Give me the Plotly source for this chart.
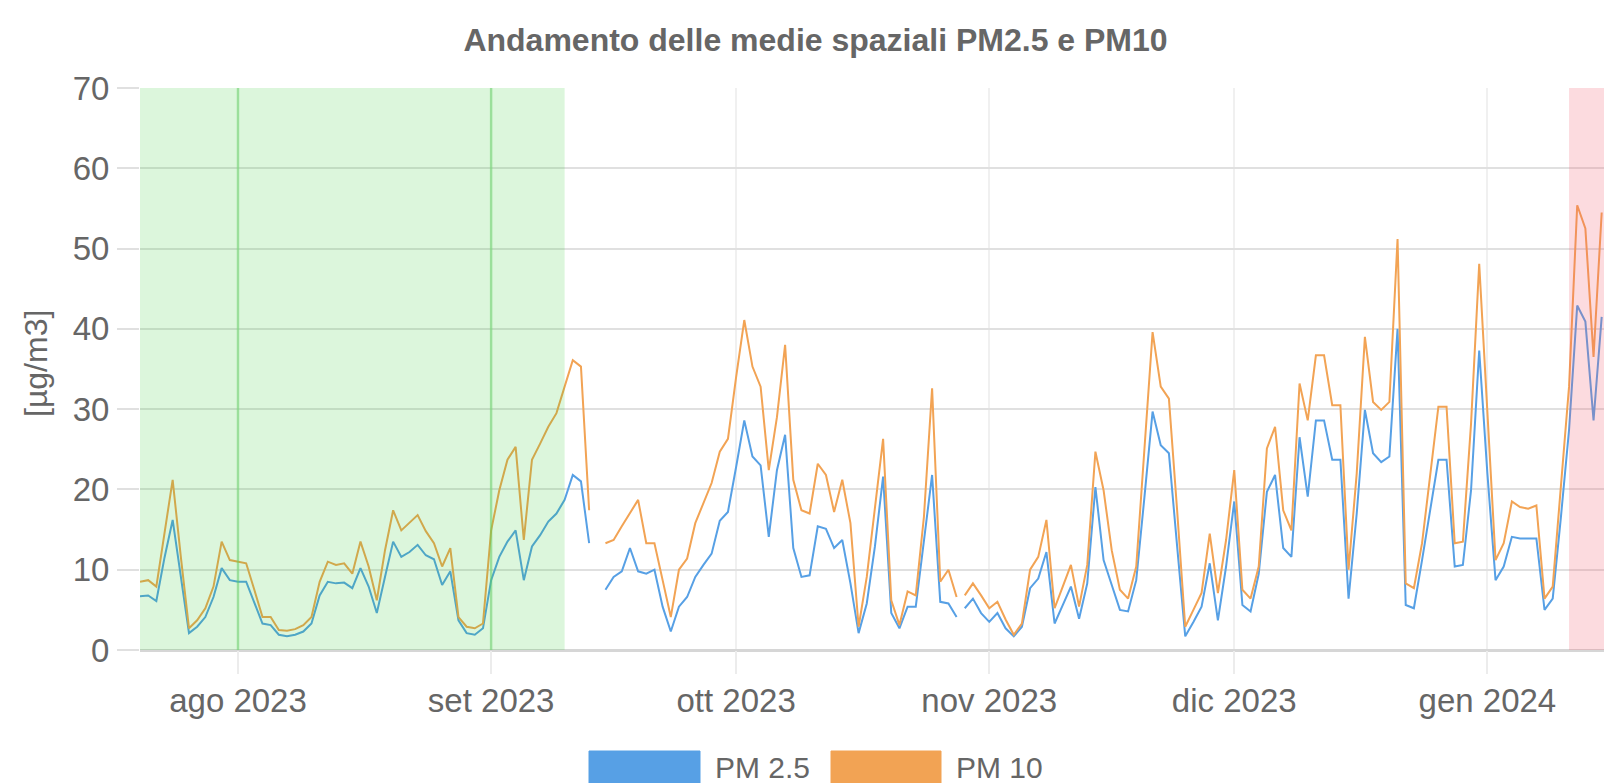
import pandas as pd
import plotly.graph_objects as go

# ---------------- data ----------------
START_DATE = "2023-07-20"
END_DATE = "2024-01-15"
GAP_TIME = "2023-10-28 12:00"   # break in the line between 28 and 29 Oct

pm25 = [6.7, 6.8, 6.1, 11.5, 16.2, 9.1, 2.1, 2.9, 4.1, 6.6,
        10.2, 8.7, 8.5, 8.5, 5.8, 3.3, 3.1, 1.9, 1.7, 1.9,
        2.3, 3.3, 6.8, 8.5, 8.3, 8.4, 7.7, 10.2, 7.9, 4.6,
        9.1, 13.5, 11.6, 12.2, 13.1, 11.8, 11.3, 8.1, 9.8, 3.7,
        2.1, 1.9, 2.7, 8.7, 11.6, 13.5, 14.9, 8.7, 12.9, 14.3,
        16.0, 17.0, 18.7, 21.8, 21.0, 13.3, None, 7.5, 9.1, 9.8,
        12.7, 9.8, 9.5, 10.0, 5.4, 2.3, 5.4, 6.6, 9.1, 10.6,
        12.0, 16.1, 17.2, 22.8, 28.6, 24.1, 23.0, 14.1, 22.4, 26.8,
        12.7, 9.1, 9.3, 15.4, 15.1, 12.7, 13.7, 8.3, 2.1, 5.8,
        12.9, 21.6, 4.6, 2.7, 5.4, 5.4, 13.7, 21.8, 6.0, 5.8,
        4.1, 5.2, 6.4, 4.6, 3.5, 4.6, 2.7, 1.7, 2.9, 7.7,
        8.9, 12.2, 3.3, 5.6, 7.9, 3.9, 8.3, 20.3, 11.2, 8.1,
        5.0, 4.8, 8.7, 19.0, 29.7, 25.5, 24.5, 13.0, 1.7, 3.5,
        5.4, 10.8, 3.7, 10.4, 18.5, 5.6, 4.8, 9.5, 19.7, 21.8,
        12.7, 11.6, 26.5, 19.1, 28.6, 28.6, 23.7, 23.7, 6.4, 17.0,
        29.9, 24.5, 23.4, 24.1, 40.0, 5.6, 5.2, 11.2, 17.4, 23.7,
        23.7, 10.4, 10.6, 19.9, 37.3, 22.0, 8.7, 10.4, 14.1, 13.9,
        13.9, 13.9, 5.0, 6.4, 16.5, 27.4, 42.9, 40.9, 28.6, 41.5]

pm10 = [8.5, 8.7, 7.9, 14.5, 21.2, 11.6, 2.7, 3.7, 5.2, 7.9,
        13.5, 11.2, 11.0, 10.8, 7.5, 4.1, 4.1, 2.5, 2.4, 2.6,
        3.1, 4.1, 8.5, 11.0, 10.6, 10.8, 9.5, 13.5, 10.4, 6.2,
        12.4, 17.4, 14.9, 15.8, 16.8, 14.8, 13.3, 10.4, 12.7, 4.1,
        2.9, 2.7, 3.3, 14.9, 19.9, 23.7, 25.3, 13.7, 23.7, 25.7,
        27.8, 29.5, 32.8, 36.1, 35.3, 17.4, None, 13.3, 13.7, 15.4,
        17.0, 18.7, 13.3, 13.3, 8.7, 4.1, 10.0, 11.4, 15.8, 18.3,
        20.8, 24.7, 26.3, 34.0, 41.1, 35.3, 32.8, 22.4, 29.0, 38.0,
        21.2, 17.4, 17.0, 23.2, 21.8, 17.2, 21.2, 15.8, 2.9, 9.1,
        17.4, 26.3, 6.2, 3.1, 7.3, 6.8, 16.6, 32.6, 8.5, 10.0,
        6.6, 6.8, 8.3, 6.8, 5.2, 6.0, 3.8, 1.9, 3.3, 10.0,
        11.6, 16.2, 5.2, 7.9, 10.6, 5.4, 10.6, 24.7, 19.9, 12.4,
        7.5, 6.4, 10.4, 25.0, 39.6, 32.8, 31.3, 17.5, 2.9, 5.0,
        7.1, 14.5, 7.1, 13.7, 22.4, 7.5, 6.4, 10.4, 25.1, 27.8,
        17.4, 14.9, 33.2, 28.6, 36.7, 36.7, 30.5, 30.5, 10.0, 22.0,
        39.0, 30.9, 29.9, 30.9, 51.2, 8.3, 7.7, 13.3, 22.0, 30.3,
        30.3, 13.3, 13.5, 28.2, 48.1, 29.0, 11.2, 13.3, 18.5, 17.8,
        17.6, 18.0, 6.4, 7.9, 20.5, 32.8, 55.4, 52.5, 36.5, 54.5]

tick_dates = ["2023-08-01", "2023-09-01", "2023-10-01",
              "2023-11-01", "2023-12-01", "2024-01-01"]
tick_labels = ["ago 2023", "set 2023", "ott 2023",
               "nov 2023", "dic 2023", "gen 2024"]

green_start, green_end = "2023-07-19", "2023-09-10"
green_lines = ["2023-08-01", "2023-09-01"]
red_start = "2024-01-11"

series_names = ["PM 2.5", "PM 10"]
series_colors = ["#57a0e5", "#f2a354"]

TITLE = "Andamento delle medie spaziali PM2.5 e PM10"
Y_TITLE = "[µg/m3]"

# ---------------- build x with gap ----------------
days = pd.date_range(START_DATE, END_DATE, freq="D")
gap_ts = pd.Timestamp(GAP_TIME)


def with_gap(vals):
    xs, ys = [], []
    for d, v in zip(days, vals):
        if d > gap_ts and (len(xs) == 0 or xs[-1] < gap_ts):
            xs.append(gap_ts)
            ys.append(None)
        xs.append(d)
        ys.append(v)
    return xs, ys


FONT = "Liberation Sans, Arial, sans-serif"
GREY = "#666666"

fig = go.Figure()
for name, vals, col in zip(series_names, [pm25, pm10], series_colors):
    xs, ys = with_gap(vals)
    fig.add_trace(go.Scatter(x=xs, y=ys, mode="lines", name=name,
                             line=dict(color=col, width=2),
                             connectgaps=False, showlegend=False))

x_range = ["2023-07-20 00:00", "2024-01-15 06:45"]

# shaded periods (drawn above the lines, semi-transparent)
fig.add_shape(type="rect", xref="x", yref="y", x0=green_start, x1=green_end,
              y0=0, y1=70, fillcolor="rgba(40,200,40,0.16)", line_width=0,
              layer="above")
for gl in green_lines:
    fig.add_shape(type="line", xref="x", yref="y", x0=gl, x1=gl, y0=0, y1=70,
                  line=dict(color="rgba(90,210,90,0.45)", width=2.5),
                  layer="above")
fig.add_shape(type="rect", xref="x", yref="y", x0=red_start, x1=x_range[1],
              y0=0, y1=70, fillcolor="rgba(240,90,110,0.22)", line_width=0,
              layer="above")

# custom legend (boxes + labels) at bottom
L, W, T, H = 140.0, 1464.0, 88.0, 562.0


def px_x(p):
    return (p - L) / W


def px_y(p):
    return (T + H - p) / H


legend_boxes = [(589, 700), (831, 941)]
legend_text_x = [713, 954]
for (bx0, bx1), tx, name, col in zip(legend_boxes, legend_text_x,
                                      series_names, series_colors):
    fig.add_shape(type="rect", xref="paper", yref="paper",
                  x0=px_x(bx0), x1=px_x(bx1), y0=px_y(751), y1=px_y(795),
                  fillcolor=col, line=dict(color=col, width=1))
    fig.add_annotation(text=name, xref="paper", yref="paper",
                       x=px_x(tx), y=px_y(767), xanchor="left",
                       yanchor="middle", showarrow=False,
                       font=dict(family=FONT, size=30, color=GREY))

fig.add_annotation(text=Y_TITLE, xref="paper", yref="paper",
                   x=px_x(36), y=px_y(364), textangle=-90,
                   xanchor="center", yanchor="middle", showarrow=False,
                   font=dict(family=FONT, size=32, color=GREY))

fig.update_layout(
    width=1604, height=783, autosize=False,
    margin=dict(l=140, r=0, t=88, b=133),
    paper_bgcolor="white", plot_bgcolor="white",
    title=dict(text=TITLE, x=815.5 / 1604, xanchor="center",
               y=1 - 40 / 783, yanchor="middle",
               font=dict(family=FONT, size=32, color=GREY, weight="bold")),
    showlegend=False,
    xaxis=dict(type="date", range=x_range, tickvals=tick_dates,
               ticktext=tick_labels, ticks="outside", ticklen=23,
               tickwidth=1.5, tickcolor="#ececec", showgrid=True,
               gridcolor="#f0f0f0", gridwidth=1.5, zeroline=False,
               showline=False, ticklabelstandoff=-2,
               tickfont=dict(family=FONT, size=33, color=GREY)),
    yaxis=dict(range=[0, 70], dtick=10, tick0=0, ticks="outside",
               ticklen=22, tickwidth=2, tickcolor="#e0e0e0",
               showgrid=True, gridcolor="#e0e0e0", gridwidth=2,
               zeroline=True, zerolinecolor="#d6d6d6", zerolinewidth=2.5,
               showline=False, ticklabelstandoff=1,
               tickfont=dict(family=FONT, size=33, color=GREY)),
)

fig.write_html("out.html",
               config={"displayModeBar": False},
               post_script="document.body.style.margin='0';"
                           "document.body.style.overflow='hidden';")
